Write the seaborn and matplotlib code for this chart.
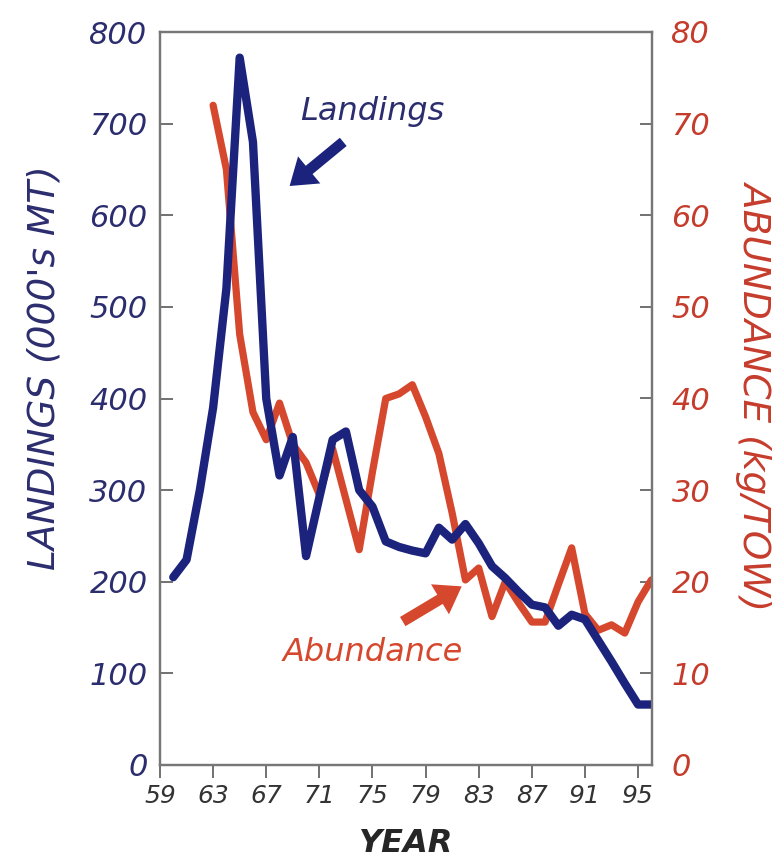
import numpy as np
import pandas as pd
import matplotlib
matplotlib.use("Agg")
import matplotlib.pyplot as plt
import seaborn as sns

# data
land_years = list(range(1960, 1997))
landings = [205, 224, 300, 390, 520, 772, 680, 400, 316, 358, 228, 292, 355, 364,
            300, 282, 244, 238, 234, 231, 259, 246, 263, 242, 217, 204, 189, 175,
            172, 152, 164, 159, 136, 113, 89, 66, 66]

abund_years = list(range(1963, 1997))
abundance = [72, 65, 47, 38.5, 35.5, 39.5, 35, 33, 29.5, 34.5, 29, 23.5, 32, 40,
             40.5, 41.5, 38, 34, 27.5, 20.2, 21.5, 16.2, 20, 17.7, 15.6, 15.6,
             19.7, 23.7, 16.5, 14.7, 15.3, 14.4, 17.8, 20.2]

year_ticks = list(range(1959, 1996, 4))
year_labels = [str(y)[2:] for y in year_ticks]
land_ticks = list(range(0, 801, 100))
abund_ticks = list(range(0, 81, 10))

navy = "#1c237d"
red = "#d6482d"
navy_txt = "#2b2d6e"
red_txt = "#c63c2c"

sns.set_style("ticks")

df_land = pd.DataFrame({"year": land_years, "landings": landings})
df_abund = pd.DataFrame({"year": abund_years, "abundance": abundance})

fig = plt.figure(figsize=(7.82, 8.65), dpi=100)
ax = fig.add_axes([160 / 782, 1 - 765 / 865, 492 / 782, 733 / 865])
ax2 = ax.twinx()

sns.lineplot(data=df_abund, x="year", y="abundance", ax=ax2, color=red, lw=5.2)
sns.lineplot(data=df_land, x="year", y="landings", ax=ax, color=navy, lw=6)
ax.set_zorder(ax2.get_zorder() + 1)
ax.patch.set_visible(False)

ax.set_xlim(1959, 1996.05)
ax.set_ylim(0, 800)
ax2.set_ylim(0, 80)

ax.set_xticks(year_ticks)
ax.set_xticklabels(year_labels, fontsize=18, style="italic", color="#333333")
ax.set_yticks(land_ticks)
ax.set_yticklabels(land_ticks, fontsize=22, style="italic", color=navy_txt)
ax2.set_yticks(abund_ticks)
ax2.set_yticklabels(abund_ticks, fontsize=22, style="italic", color=red_txt)

ax.tick_params(axis="x", direction="out", length=9, width=1.3, color="#666666", pad=5)
ax.tick_params(axis="y", direction="in", length=9, width=1.3, color="#666666", pad=9)
ax2.tick_params(axis="y", direction="in", length=9, width=1.3, color="#666666", pad=14)

for a in (ax, ax2):
    for s in a.spines.values():
        s.set_color("#777777")
        s.set_linewidth(1.6)

ax.set_xlabel("YEAR", fontsize=23, fontweight="bold", style="italic", labelpad=14)
ax.set_ylabel("LANDINGS (000's MT)", fontsize=27, style="italic", color=navy_txt)
ax2.set_ylabel("ABUNDANCE (kg/TOW)", fontsize=27, style="italic", color=red_txt,
               rotation=-90)
ax.yaxis.label.set_va("center")
ax2.yaxis.label.set_va("center")
ax.yaxis.set_label_coords(-0.235, 0.542)
ax2.yaxis.set_label_coords(1.21, 0.505)

# annotations
ax.text(1975, 713, "Landings", fontsize=23, style="italic", color=navy_txt,
        ha="center", va="center")
ax.annotate("", xy=(1968.6, 630), xytext=(1972.96, 682),
            arrowprops=dict(arrowstyle="simple,head_width=1.8,head_length=1.3,tail_width=0.55",
                            mutation_scale=14, color=navy, lw=0))
ax.text(1975, 123, "Abundance", fontsize=23, style="italic", color=red,
        ha="center", va="center")
ax.annotate("", xy=(1981.9, 196.5), xytext=(1977.1, 155),
            arrowprops=dict(arrowstyle="simple,head_width=1.8,head_length=1.3,tail_width=0.55",
                            mutation_scale=14, color=red, lw=0))

fig.savefig("out.png", dpi=100)
